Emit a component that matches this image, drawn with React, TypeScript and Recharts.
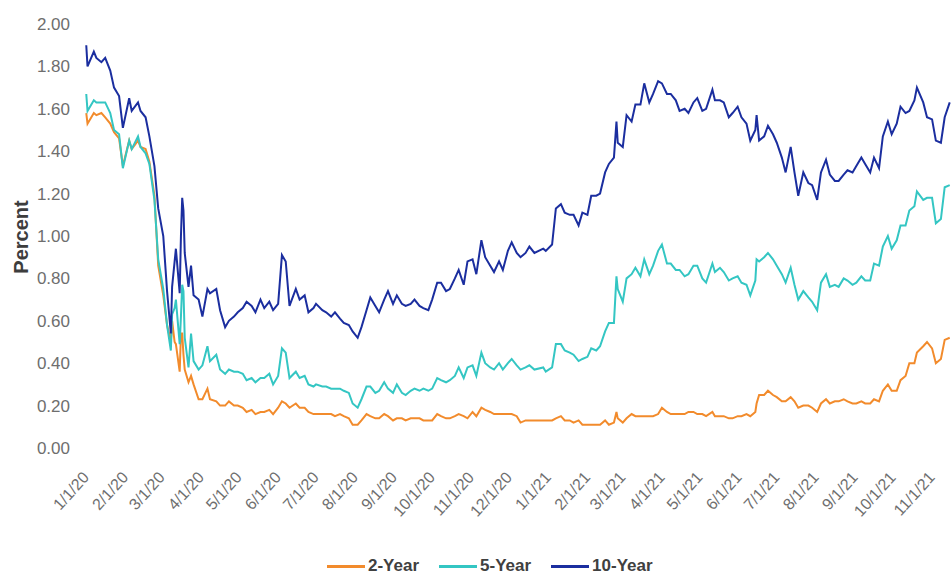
import React from "react";
import { LineChart, Line, XAxis, YAxis } from "recharts";

const dates = [
  // Jan 2020
  "2020-01-02", "2020-01-03", "2020-01-08", "2020-01-10", "2020-01-14", "2020-01-17", "2020-01-21", "2020-01-24", "2020-01-28", "2020-01-31",
  // Feb 2020
  "2020-02-05", "2020-02-07", "2020-02-12", "2020-02-14", "2020-02-18", "2020-02-21", "2020-02-25", "2020-02-28",
  // Mar 2020
  "2020-03-03", "2020-03-06", "2020-03-09", "2020-03-10", "2020-03-12", "2020-03-13", "2020-03-16", "2020-03-17", "2020-03-18", "2020-03-19", "2020-03-20", "2020-03-23", "2020-03-25", "2020-03-27", "2020-03-31",
  // Apr 2020
  "2020-04-03", "2020-04-07", "2020-04-09", "2020-04-14", "2020-04-17", "2020-04-21", "2020-04-24", "2020-04-28",
  // May 2020
  "2020-05-01", "2020-05-05", "2020-05-08", "2020-05-12", "2020-05-15", "2020-05-19", "2020-05-22", "2020-05-26", "2020-05-29",
  // Jun 2020
  "2020-06-02", "2020-06-05", "2020-06-08", "2020-06-11", "2020-06-16", "2020-06-19", "2020-06-23", "2020-06-26", "2020-06-30",
  // Jul 2020
  "2020-07-02", "2020-07-07", "2020-07-10", "2020-07-14", "2020-07-17", "2020-07-21", "2020-07-24", "2020-07-28", "2020-07-31",
  // Aug 2020
  "2020-08-04", "2020-08-07", "2020-08-11", "2020-08-14", "2020-08-18", "2020-08-21", "2020-08-25", "2020-08-28",
  // Sep 2020
  "2020-09-01", "2020-09-04", "2020-09-08", "2020-09-11", "2020-09-15", "2020-09-18", "2020-09-22", "2020-09-25", "2020-09-29",
  // Oct 2020
  "2020-10-02", "2020-10-06", "2020-10-09", "2020-10-13", "2020-10-16", "2020-10-20", "2020-10-23", "2020-10-27", "2020-10-30",
  // Nov 2020
  "2020-11-03", "2020-11-06", "2020-11-10", "2020-11-13", "2020-11-17", "2020-11-20", "2020-11-24", "2020-11-27",
  // Dec 2020
  "2020-12-01", "2020-12-04", "2020-12-08", "2020-12-11", "2020-12-15", "2020-12-18", "2020-12-22", "2020-12-29", "2020-12-31",
  // Jan 2021
  "2021-01-05", "2021-01-08", "2021-01-12", "2021-01-15", "2021-01-19", "2021-01-22", "2021-01-26", "2021-01-29",
  // Feb 2021
  "2021-02-02", "2021-02-05", "2021-02-09", "2021-02-12", "2021-02-16", "2021-02-19", "2021-02-23", "2021-02-25", "2021-02-26",
  // Mar 2021
  "2021-03-02", "2021-03-05", "2021-03-09", "2021-03-12", "2021-03-16", "2021-03-19", "2021-03-23", "2021-03-26", "2021-03-30",
  // Apr 2021
  "2021-04-02", "2021-04-06", "2021-04-09", "2021-04-13", "2021-04-16", "2021-04-20", "2021-04-23", "2021-04-27", "2021-04-30",
  // May 2021
  "2021-05-04", "2021-05-07", "2021-05-12", "2021-05-14", "2021-05-18", "2021-05-21", "2021-05-25", "2021-05-28",
  // Jun 2021
  "2021-06-01", "2021-06-04", "2021-06-08", "2021-06-11", "2021-06-15", "2021-06-16", "2021-06-18", "2021-06-22", "2021-06-25", "2021-06-29",
  // Jul 2021
  "2021-07-02", "2021-07-06", "2021-07-09", "2021-07-13", "2021-07-16", "2021-07-19", "2021-07-23", "2021-07-27", "2021-07-30",
  // Aug 2021
  "2021-08-03", "2021-08-06", "2021-08-10", "2021-08-13", "2021-08-17", "2021-08-20", "2021-08-24", "2021-08-27", "2021-08-31",
  // Sep 2021
  "2021-09-03", "2021-09-07", "2021-09-10", "2021-09-14", "2021-09-17", "2021-09-21", "2021-09-24", "2021-09-28",
  // Oct 2021
  "2021-10-01", "2021-10-05", "2021-10-08", "2021-10-12", "2021-10-15", "2021-10-19", "2021-10-21", "2021-10-26", "2021-10-29",
  // Nov 2021
  "2021-11-02", "2021-11-05", "2021-11-09", "2021-11-12", "2021-11-16",
];

const twoYear = [
  1.58, 1.53, 1.58, 1.57, 1.58, 1.56, 1.53, 1.49, 1.46, 1.33,
  1.45, 1.41, 1.45, 1.42, 1.41, 1.35, 1.19, 0.86,
  0.72, 0.58, 0.50, 0.60, 0.50, 0.49, 0.36, 0.54, 0.54, 0.44, 0.37, 0.31, 0.34, 0.30, 0.23,
  0.23, 0.28, 0.23, 0.22, 0.20, 0.20, 0.22, 0.20,
  0.20, 0.19, 0.17, 0.18, 0.16, 0.17, 0.17, 0.18, 0.16,
  0.19, 0.22, 0.21, 0.19, 0.21, 0.19, 0.19, 0.17, 0.16,
  0.16, 0.16, 0.16, 0.16, 0.15, 0.16, 0.15, 0.14, 0.11,
  0.11, 0.13, 0.16, 0.15, 0.14, 0.14, 0.16, 0.15,
  0.13, 0.14, 0.14, 0.13, 0.14, 0.14, 0.14, 0.13, 0.13,
  0.13, 0.16, 0.15, 0.14, 0.14, 0.15, 0.16, 0.15, 0.14,
  0.17, 0.15, 0.19, 0.18, 0.17, 0.16, 0.16, 0.16,
  0.16, 0.16, 0.15, 0.12, 0.13, 0.13, 0.13, 0.13, 0.13,
  0.13, 0.14, 0.15, 0.13, 0.13, 0.12, 0.13, 0.11,
  0.11, 0.11, 0.11, 0.11, 0.13, 0.11, 0.12, 0.17, 0.14,
  0.12, 0.14, 0.16, 0.15, 0.15, 0.15, 0.15, 0.15, 0.16,
  0.19, 0.17, 0.16, 0.16, 0.16, 0.16, 0.17, 0.17, 0.16,
  0.16, 0.15, 0.17, 0.15, 0.15, 0.15, 0.14, 0.14,
  0.15, 0.15, 0.16, 0.15, 0.17, 0.21, 0.25, 0.25, 0.27, 0.25,
  0.24, 0.22, 0.22, 0.24, 0.22, 0.19, 0.20, 0.20, 0.19,
  0.17, 0.21, 0.23, 0.21, 0.22, 0.22, 0.23, 0.22, 0.21,
  0.21, 0.22, 0.21, 0.21, 0.23, 0.22, 0.27, 0.30,
  0.27, 0.27, 0.32, 0.34, 0.40, 0.40, 0.45, 0.48, 0.50,
  0.47, 0.40, 0.42, 0.51, 0.52,
];

const fiveYear = [
  1.67, 1.59, 1.64, 1.63, 1.63, 1.63, 1.58, 1.50, 1.48, 1.32,
  1.45, 1.41, 1.47, 1.42, 1.39, 1.34, 1.17, 0.89,
  0.75, 0.58, 0.46, 0.63, 0.66, 0.70, 0.49, 0.62, 0.77, 0.74, 0.52, 0.38, 0.54, 0.41, 0.37,
  0.39, 0.48, 0.41, 0.44, 0.37, 0.35, 0.37, 0.36,
  0.36, 0.35, 0.32, 0.33, 0.31, 0.33, 0.33, 0.35, 0.30,
  0.34, 0.47, 0.45, 0.33, 0.36, 0.33, 0.34, 0.30, 0.29,
  0.30, 0.29, 0.29, 0.28, 0.28, 0.28, 0.27, 0.26, 0.21,
  0.19, 0.23, 0.29, 0.29, 0.26, 0.27, 0.31, 0.28,
  0.26, 0.30, 0.26, 0.25, 0.27, 0.28, 0.27, 0.28, 0.27,
  0.28, 0.33, 0.32, 0.31, 0.32, 0.34, 0.38, 0.33, 0.38,
  0.39, 0.34, 0.45, 0.40, 0.38, 0.37, 0.40, 0.37,
  0.40, 0.42, 0.39, 0.37, 0.38, 0.39, 0.37, 0.38, 0.36,
  0.38, 0.49, 0.49, 0.46, 0.45, 0.44, 0.41, 0.42,
  0.43, 0.47, 0.46, 0.48, 0.55, 0.59, 0.59, 0.81, 0.75,
  0.69, 0.80, 0.82, 0.85, 0.81, 0.89, 0.82, 0.86, 0.93,
  0.96, 0.87, 0.87, 0.84, 0.84, 0.81, 0.82, 0.86, 0.86,
  0.80, 0.78, 0.87, 0.83, 0.85, 0.83, 0.79, 0.80,
  0.81, 0.78, 0.77, 0.72, 0.79, 0.89, 0.88, 0.90, 0.92, 0.89,
  0.86, 0.82, 0.78, 0.85, 0.77, 0.70, 0.74, 0.71, 0.69,
  0.65, 0.78, 0.82, 0.76, 0.77, 0.76, 0.80, 0.79, 0.77,
  0.78, 0.81, 0.79, 0.79, 0.87, 0.86, 0.95, 1.00,
  0.94, 0.98, 1.05, 1.05, 1.12, 1.14, 1.21, 1.17, 1.18,
  1.18, 1.06, 1.08, 1.23, 1.24,
];

const tenYear = [
  1.90, 1.80, 1.87, 1.84, 1.82, 1.84, 1.78, 1.70, 1.66, 1.51,
  1.65, 1.59, 1.63, 1.59, 1.56, 1.47, 1.33, 1.13,
  1.00, 0.74, 0.54, 0.76, 0.88, 0.94, 0.73, 1.00, 1.18, 1.12, 0.92, 0.76, 0.86, 0.72, 0.70,
  0.62, 0.75, 0.73, 0.75, 0.65, 0.57, 0.60, 0.62,
  0.64, 0.66, 0.69, 0.67, 0.64, 0.70, 0.66, 0.69, 0.65,
  0.68, 0.91, 0.88, 0.67, 0.75, 0.70, 0.72, 0.64, 0.66,
  0.68, 0.65, 0.64, 0.62, 0.64, 0.61, 0.59, 0.58, 0.55,
  0.52, 0.57, 0.65, 0.71, 0.67, 0.64, 0.70, 0.74,
  0.68, 0.72, 0.68, 0.67, 0.68, 0.70, 0.67, 0.66, 0.65,
  0.70, 0.78, 0.78, 0.74, 0.75, 0.80, 0.84, 0.77, 0.88,
  0.89, 0.82, 0.98, 0.90, 0.86, 0.83, 0.88, 0.84,
  0.93, 0.97, 0.92, 0.90, 0.92, 0.95, 0.92, 0.94, 0.93,
  0.96, 1.13, 1.15, 1.11, 1.10, 1.10, 1.05, 1.11,
  1.10, 1.19, 1.19, 1.20, 1.30, 1.34, 1.37, 1.54, 1.44,
  1.42, 1.57, 1.54, 1.62, 1.62, 1.72, 1.63, 1.67, 1.73,
  1.72, 1.67, 1.67, 1.64, 1.59, 1.60, 1.58, 1.63, 1.65,
  1.59, 1.60, 1.69, 1.64, 1.64, 1.63, 1.56, 1.58,
  1.61, 1.56, 1.53, 1.45, 1.50, 1.57, 1.45, 1.47, 1.52, 1.48,
  1.44, 1.37, 1.30, 1.42, 1.30, 1.19, 1.30, 1.25, 1.24,
  1.17, 1.30, 1.36, 1.29, 1.26, 1.26, 1.29, 1.31, 1.30,
  1.33, 1.37, 1.34, 1.30, 1.37, 1.32, 1.47, 1.54,
  1.48, 1.53, 1.61, 1.58, 1.59, 1.64, 1.70, 1.63, 1.56,
  1.55, 1.45, 1.44, 1.56, 1.63,
];

const monthTicks = [
  "2020-01-01", "2020-02-01", "2020-03-01", "2020-04-01", "2020-05-01", "2020-06-01",
  "2020-07-01", "2020-08-01", "2020-09-01", "2020-10-01", "2020-11-01", "2020-12-01",
  "2021-01-01", "2021-02-01", "2021-03-01", "2021-04-01", "2021-05-01", "2021-06-01",
  "2021-07-01", "2021-08-01", "2021-09-01", "2021-10-01", "2021-11-01",
];
const tickLabels = [
  "1/1/20", "2/1/20", "3/1/20", "4/1/20", "5/1/20", "6/1/20", "7/1/20", "8/1/20",
  "9/1/20", "10/1/20", "11/1/20", "12/1/20", "1/1/21", "2/1/21", "3/1/21", "4/1/21",
  "5/1/21", "6/1/21", "7/1/21", "8/1/21", "9/1/21", "10/1/21", "11/1/21",
];
const yTicks = [0, 0.2, 0.4, 0.6, 0.8, 1.0, 1.2, 1.4, 1.6, 1.8, 2.0];
const domainStart = "2020-01-01";
const domainEnd = "2021-11-17";

const seriesNames = ["2-Year", "5-Year", "10-Year"];
const seriesKeys = ["y2", "y5", "y10"];
const seriesColors = ["#F28B2C", "#34C6C3", "#1B2E9F"];

const data = dates.map((d, i) => ({
  t: Date.parse(d),
  y2: twoYear[i],
  y5: fiveYear[i],
  y10: tenYear[i],
}));
const tickValues = monthTicks.map((d) => Date.parse(d));
const labelByTick: Record<number, string> = {};
tickValues.forEach((v, i) => {
  labelByTick[v] = tickLabels[i];
});

const FONT = "'Liberation Sans', Arial, sans-serif";

const XTick = (props: any) => {
  const { x, y, payload } = props;
  const ax = x + 5;
  const ay = y + 30;
  return (
    <text
      x={ax}
      y={ay}
      textAnchor="end"
      transform={`rotate(-48 ${ax} ${ay})`}
      fill="#6e6e6e"
      fontSize={16}
      fontFamily={FONT}
    >
      {labelByTick[payload.value]}
    </text>
  );
};

const YLabel = () => (
  <text
    x={21}
    y={237}
    transform="rotate(-90 21 237)"
    textAnchor="middle"
    dominantBaseline="central"
    fill="#3d3d3d"
    fontSize={20}
    fontWeight="bold"
    fontFamily={FONT}
  >
    Percent
  </text>
);

export default function App() {
  return (
    <div style={{ position: "absolute", left: 0, top: 0, width: 951, height: 577, background: "#fff" }}>
      <LineChart
        width={951}
        height={577}
        data={data}
        margin={{ top: 24, right: 0, bottom: 0, left: 0 }}
      >
        <XAxis
          dataKey="t"
          type="number"
          scale="time"
          domain={[Date.parse(domainStart), Date.parse(domainEnd)]}
          ticks={tickValues}
          interval={0}
          axisLine={false}
          tickLine={false}
          tickSize={0}
          tickMargin={0}
          height={129}
          tick={<XTick />}
          allowDataOverflow
        />
        <YAxis
          type="number"
          domain={[0, 2]}
          ticks={yTicks}
          interval={0}
          width={85}
          axisLine={false}
          tickLine={false}
          tickSize={0}
          tickMargin={15}
          tickFormatter={(v: number) => v.toFixed(2)}
          tick={{ fill: "#6e6e6e", fontSize: 17, fontFamily: FONT }}
          label={<YLabel />}
        />
        {seriesKeys.map((k, i) => (
          <Line
            key={k}
            type="linear"
            dataKey={k}
            name={seriesNames[i]}
            stroke={seriesColors[i]}
            strokeWidth={2}
            dot={false}
            activeDot={false}
            isAnimationActive={false}
          />
        ))}
      </LineChart>
      <div
        style={{
          position: "absolute",
          left: 327,
          top: 555,
          height: 22,
          display: "flex",
          alignItems: "center",
          fontFamily: FONT,
          fontWeight: "bold",
          fontSize: 17,
          color: "#404040",
        }}
      >
        {seriesNames.map((n, i) => (
          <div key={n} style={{ display: "flex", alignItems: "center", marginRight: 20 }}>
            <span
              style={{
                display: "inline-block",
                width: 38,
                height: 3,
                background: seriesColors[i],
                marginRight: 3,
              }}
            />
            <span>{n}</span>
          </div>
        ))}
      </div>
    </div>
  );
}
